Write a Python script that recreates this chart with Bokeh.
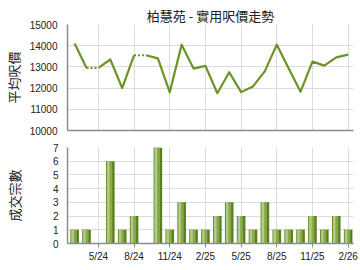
from bokeh.plotting import figure
from bokeh.layouts import column
from bokeh.models import FixedTicker, ColumnDataSource, Range1d, LinearAxis
from bokeh.transform import dodge
from bokeh.embed import file_html
from bokeh.resources import INLINE

title_text = "柏慧苑 - 實用呎價走勢"
months = ["3/24", "4/24", "5/24", "6/24", "7/24", "8/24", "9/24", "10/24", "11/24", "12/24",
          "1/25", "2/25", "3/25", "4/25", "5/25", "6/25", "7/25", "8/25", "9/25", "10/25",
          "11/25", "12/25", "1/26", "2/26"]
price = [14100, 12950, 12950, 13350, 12000, 13550, 13550, 13400, 11800, 14050,
         12920, 13050, 11760, 12750, 11810, 12080, 12800, 14050, 12930, 11830,
         13250, 13060, 13450, 13580]
deals = [1, 1, 0, 6, 1, 2, 0, 7, 1, 3, 1, 1, 2, 3, 2, 1, 3, 1, 1, 1, 2, 1, 2, 1]
tick_months = ["5/24", "8/24", "11/24", "2/25", "5/25", "8/25", "11/25", "2/26"]

xs = list(range(len(months)))
tick_idx = [months.index(m) for m in tick_months]

CJK = "Noto Sans CJK TC"
NUM = "Liberation Sans"
LINE = "#6b9427"
GRID = "#dcdcdc"
AXIS = "#8c8c8c"

xr = (-0.6, 23.45)

# ---------- top: price line ----------
p1 = figure(width=360, height=137, output_backend="svg", toolbar_location=None,
            x_range=Range1d(*xr), y_range=Range1d(10000, 15000),
            min_border_left=67, min_border_right=7, min_border_top=24, min_border_bottom=7)
p1.title.text = title_text
p1.title.align = "center"
p1.title.text_font = CJK
p1.title.text_font_size = "13px"
p1.title.text_font_style = "normal"
p1.title.text_color = "#222222"
p1.title.offset = 0
p1.title.standoff = 0
p1.outline_line_color = None

p1.xaxis.visible = False
p1.xgrid.ticker = FixedTicker(ticks=tick_idx)
p1.xgrid.grid_line_color = GRID
p1.yaxis.ticker = FixedTicker(ticks=[10000, 11000, 12000, 13000, 14000, 15000])
p1.ygrid.grid_line_color = GRID
p1.yaxis.axis_label = "平均呎價"
p1.yaxis.axis_label_text_font = CJK
p1.yaxis.axis_label_text_font_size = "13px"
p1.yaxis.axis_label_text_font_style = "normal"
p1.yaxis.axis_label_text_color = "#222222"
p1.yaxis.axis_label_standoff = 4
p1.yaxis.major_label_text_font = NUM
p1.yaxis.major_label_text_font_size = "10px"
p1.yaxis.major_label_text_color = "#222222"
p1.yaxis.major_tick_out = 0
p1.yaxis.major_tick_in = 0
p1.yaxis.minor_tick_line_color = None
p1.yaxis.major_label_standoff = 10
p1.yaxis.axis_line_color = AXIS
p1.yaxis.axis_line_width = 1.5

bax = LinearAxis(ticker=FixedTicker(ticks=[]), major_label_text_font_size="0px",
                 axis_line_color=AXIS, axis_line_width=1.5,
                 major_tick_line_color=None, minor_tick_line_color=None)
p1.add_layout(bax, "below")

# solid / dotted runs: a segment into a month with no deals is dotted
solid_x, solid_y, dot_x, dot_y = [], [], [], []
cur_x, cur_y = [xs[0]], [price[0]]
for i in range(1, len(xs)):
    if deals[i] == 0:
        dot_x.append([xs[i - 1], xs[i]])
        dot_y.append([price[i - 1], price[i]])
        if len(cur_x) > 1:
            solid_x.append(cur_x)
            solid_y.append(cur_y)
        cur_x, cur_y = [xs[i]], [price[i]]
    else:
        cur_x.append(xs[i])
        cur_y.append(price[i])
if len(cur_x) > 1:
    solid_x.append(cur_x)
    solid_y.append(cur_y)

p1.multi_line(solid_x, solid_y, line_color=LINE, line_width=2.2, line_join="round")
p1.multi_line(dot_x, dot_y, line_color=LINE, line_width=2.2, line_dash="2 2")

# ---------- bottom: deals bars ----------
p2 = figure(width=360, height=133, output_backend="svg", toolbar_location=None,
            x_range=Range1d(*xr), y_range=Range1d(0, 7),
            min_border_left=67, min_border_right=7, min_border_top=10, min_border_bottom=27)
p2.outline_line_color = None
p2.xaxis.ticker = FixedTicker(ticks=tick_idx)
p2.xaxis.major_label_overrides = {i: m for i, m in zip(tick_idx, tick_months)}
p2.xaxis.major_label_text_font = NUM
p2.xaxis.major_label_text_font_size = "10px"
p2.xaxis.major_label_text_color = "#222222"
p2.xaxis.major_tick_out = 4
p2.xaxis.major_tick_in = 0
p2.xaxis.major_tick_line_color = AXIS
p2.xaxis.minor_tick_line_color = None
p2.xaxis.major_label_standoff = 3
p2.xaxis.axis_line_color = AXIS
p2.xaxis.axis_line_width = 1.5
p2.xgrid.ticker = FixedTicker(ticks=tick_idx)
p2.xgrid.grid_line_color = GRID
p2.yaxis.ticker = FixedTicker(ticks=list(range(0, 8)))
p2.ygrid.grid_line_color = GRID
p2.yaxis.axis_label = "成交宗數"
p2.yaxis.axis_label_text_font = CJK
p2.yaxis.axis_label_text_font_size = "13px"
p2.yaxis.axis_label_text_font_style = "normal"
p2.yaxis.axis_label_text_color = "#222222"
p2.yaxis.axis_label_standoff = 26
p2.yaxis.major_label_text_font = NUM
p2.yaxis.major_label_text_font_size = "10px"
p2.yaxis.major_label_text_color = "#222222"
p2.yaxis.major_tick_out = 0
p2.yaxis.major_tick_in = 0
p2.yaxis.minor_tick_line_color = None
p2.yaxis.major_label_standoff = 9
p2.yaxis.axis_line_color = AXIS
p2.yaxis.axis_line_width = 1.5

src = ColumnDataSource(dict(x=xs, top=deals))
p2.vbar(x="x", top="top", width=0.72, source=src, fill_color="#5a7e1f", line_color=None)
p2.vbar(x=dodge("x", -0.07, range=p2.x_range), top="top", width=0.48, source=src,
        fill_color="#88a94a", line_color=None)
p2.vbar(x=dodge("x", -0.17, range=p2.x_range), top="top", width=0.2, source=src,
        fill_color="#b3cb8c", line_color=None)

layout = column(p1, p2, spacing=0)
open("out.html", "w").write(file_html(layout, INLINE))
